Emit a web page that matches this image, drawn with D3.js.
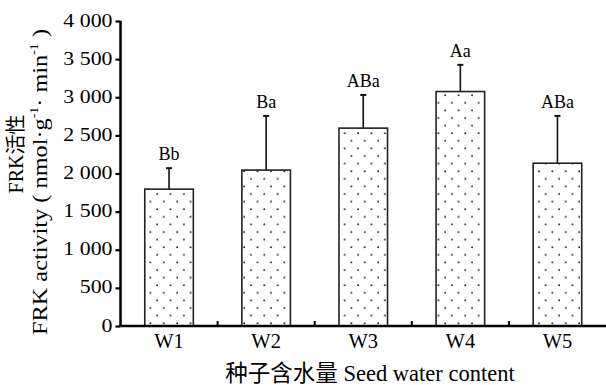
<!DOCTYPE html>
<html>
<head>
<meta charset="utf-8">
<script src="https://cdn.jsdelivr.net/npm/d3@7"></script>
<style>
  html, body { margin: 0; padding: 0; background: #fff; }
  svg { display: block; }
  text { font-family: "Liberation Serif", "Noto Sans CJK SC", serif; fill: #000; }
</style>
</head>
<body>
<svg id="chart" width="606" height="385"></svg>
<script>
const categories = ["W1", "W2", "W3", "W4", "W5"];
const means = [1795, 2045, 2595, 3075, 2135];
const errUpper = [2070, 2755, 3030, 3425, 2755];
const letters = ["Bb", "Ba", "ABa", "Aa", "ABa"];
const yTicks = [0, 500, 1000, 1500, 2000, 2500, 3000, 3500, 4000];
const xTitle = "种子含水量 Seed water content";
const yTitle1 = "FRK活性";

const svg = d3.select("#chart");
const SERIF = '"Liberation Serif", "Noto Sans CJK SC", serif';

const x = d3.scaleBand().domain(categories).range([120.5, 606]).paddingInner(0.5).paddingOuter(0.25);
const y = d3.scaleLinear().domain([0, 4000]).range([326, 21]);

const fmt = d3.formatLocale({ decimal: ".", thousands: " ", grouping: [3], currency: ["", ""] }).format(",");

// dot pattern
const defs = svg.append("defs");
const pat = defs.append("pattern").attr("id", "dots").attr("patternUnits", "userSpaceOnUse")
  .attr("width", 13.4).attr("height", 15.2);
pat.append("circle").attr("cx", 3).attr("cy", 4).attr("r", 0.9).attr("fill", "#111");
pat.append("circle").attr("cx", 9.7).attr("cy", 11.6).attr("r", 0.9).attr("fill", "#111");

const data = categories.map((c, i) => ({ c, m: means[i], e: errUpper[i], l: letters[i] }));

// error bars (behind bars)
const eg = svg.append("g");
eg.selectAll("line.v").data(data).join("line")
  .attr("x1", d => x(d.c) + x.bandwidth() / 2).attr("x2", d => x(d.c) + x.bandwidth() / 2)
  .attr("y1", d => y(d.m)).attr("y2", d => y(d.e))
  .attr("stroke", "#111").attr("stroke-width", 1.6);
eg.selectAll("line.c").data(data).join("line")
  .attr("x1", d => x(d.c) + x.bandwidth() / 2 - 3).attr("x2", d => x(d.c) + x.bandwidth() / 2 + 3)
  .attr("y1", d => y(d.e)).attr("y2", d => y(d.e))
  .attr("stroke", "#111").attr("stroke-width", 2);

// bars
svg.append("g").selectAll("rect").data(data).join("rect")
  .attr("x", d => x(d.c)).attr("width", x.bandwidth())
  .attr("y", d => y(d.m)).attr("height", d => y(0) - y(d.m))
  .attr("fill", "url(#dots)").attr("stroke", "#222").attr("stroke-width", 1.6);

// significance letters
svg.append("g").selectAll("text").data(data).join("text")
  .attr("x", d => x(d.c) + x.bandwidth() / 2).attr("y", d => y(d.e) - 8)
  .attr("text-anchor", "middle").style("font-size", "18px").style("font-family", SERIF).text(d => d.l);

// y axis
const yAxis = d3.axisLeft(y).tickValues(yTicks).tickSize(5).tickPadding(3).tickFormat(fmt);
const yg = svg.append("g").attr("transform", "translate(120.5,0)").call(yAxis);
yg.attr("font-size", null).attr("font-family", null);
yg.select(".domain").attr("stroke", "#000").attr("stroke-width", 2.5).attr("d", `M0,${y(4000)}V${y(0)}`);
yg.selectAll(".tick line").attr("stroke", "#000").attr("stroke-width", 2.2);
yg.selectAll(".tick text").style("font-size", "19px").style("font-family", SERIF).attr("dy", "5px")
  .each(function () {
    const w = this.getComputedTextLength();
    d3.select(this).attr("textLength", w * 1.15).attr("lengthAdjust", "spacingAndGlyphs");
  });

// x axis
const xAxis = d3.axisBottom(x).tickSize(0).tickPadding(0);
const xg = svg.append("g").attr("transform", `translate(0,${y(0)})`).call(xAxis);
xg.attr("font-size", null).attr("font-family", null);
xg.select(".domain").attr("stroke", "#000").attr("stroke-width", 2.5).attr("d", `M${x.range()[0]},0H${x.range()[1]}`);
xg.selectAll(".tick text").style("font-size", "20.5px").style("font-family", SERIF).attr("y", 0).attr("dy", "22px");
// boundary ticks pointing up
const bounds = categories.slice(1).map(c => x(c) - x.step() * x.paddingInner() / 2);
xg.selectAll("line.b").data(bounds).join("line")
  .attr("x1", d => d).attr("x2", d => d).attr("y1", 0).attr("y2", -5)
  .attr("stroke", "#000").attr("stroke-width", 2);

// x title
svg.append("text").attr("x", 370).attr("y", 381).attr("text-anchor", "middle")
  .style("font-size", "22.5px").style("font-family", SERIF).text(xTitle);

// y title
svg.append("text").attr("transform", "translate(23,154) rotate(-90)").attr("text-anchor", "middle")
  .style("font-size", "20px").style("font-family", SERIF).text(yTitle1);

const t2 = svg.append("text").attr("transform", "translate(47,182) rotate(-90)").attr("text-anchor", "middle")
  .style("font-size", "21px").style("font-family", SERIF).attr("textLength", 306).attr("lengthAdjust", "spacingAndGlyphs");
t2.append("tspan").text("FRK activity ( nmol·g");
t2.append("tspan").style("font-size", "12px").attr("dy", "-9").text("-1");
t2.append("tspan").attr("dy", "9").text("· min");
t2.append("tspan").style("font-size", "12px").attr("dy", "-9").text("-1");
t2.append("tspan").attr("dy", "9").text(" )");
</script>
</body>
</html>
